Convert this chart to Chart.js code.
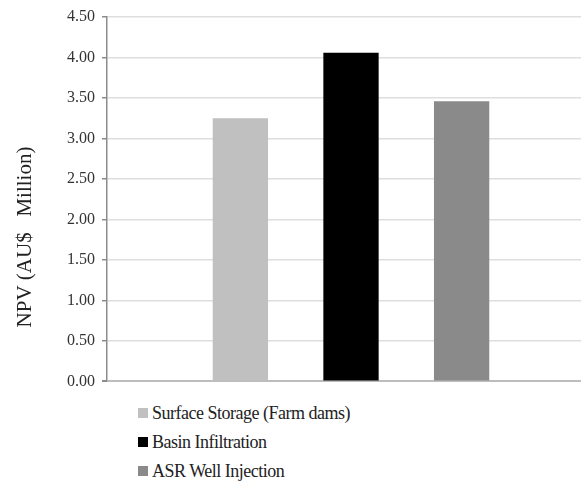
<!DOCTYPE html>
<html lang="en">
<head>
  <meta charset="UTF-8">
  <title>NPV by recharge option</title>
  <script src="https://cdn.jsdelivr.net/npm/chart.js"></script>
  <style>
    body {
      margin: 0;
      padding: 0;
      background: #fff;
      overflow: hidden;
      font-family: "Liberation Serif", "Times New Roman", "DejaVu Serif", serif;
    }
    #wrap {
      position: relative;
      width: 581px;
      height: 488px;
      overflow: hidden;
    }
    #npvChart {
      position: absolute;
      left: 0;
      top: 0;
    }
    #legend {
      position: absolute;
      left: 138px;
      top: 400px;
      list-style: none;
      margin: 0;
      padding: 0;
    }
    #legend li {
      height: 29px;
      line-height: 26px;
      font-size: 18px;
      color: #222;
      letter-spacing: -0.5px;
    }
    #legend span.box {
      display: inline-block;
      width: 10px;
      height: 10px;
      margin-right: 4px;
      vertical-align: 1px;
    }
  </style>
</head>
<body>
  <div id="wrap">
    <canvas id="npvChart" width="600" height="398"></canvas>
    <ul id="legend"></ul>
  </div>

  <script>
    const opciones = ['Surface Storage (Farm dams)', 'Basin Infiltration', 'ASR Well Injection'];
    const npv = [3.25, 4.06, 3.46];
    const colores = ['#c0c0c0', '#000000', '#8a8a8a'];
    const ejeTitulo = 'NPV (AU$   Million)';
    const fuente = '"Liberation Serif", "Times New Roman", "DejaVu Serif", serif';

    // dibuja el titulo del eje Y un poco mas abajo que el centro
    const tituloEje = {
      id: 'tituloEje',
      afterDraw(chart) {
        const ctx = chart.ctx;
        ctx.save();
        ctx.translate(25, 237);
        ctx.rotate(-Math.PI / 2);
        ctx.font = '21px ' + fuente;
        ctx.fillStyle = '#222';
        ctx.textAlign = 'center';
        ctx.textBaseline = 'middle';
        ctx.fillText(ejeTitulo, 0, 0);
        ctx.restore();
      }
    };

    new Chart(document.getElementById('npvChart'), {
      type: 'bar',
      data: {
        labels: [''],
        datasets: opciones.map((nombre, i) => ({
          label: nombre,
          data: [npv[i]],
          backgroundColor: colores[i],
          borderWidth: 0,
          barPercentage: 0.5,
          categoryPercentage: 0.68
        }))
      },
      options: {
        responsive: false,
        animation: false,
        layout: { padding: { top: 17, right: 5, bottom: 3, left: 0 } },
        plugins: {
          legend: { display: false },
          tooltip: { enabled: false }
        },
        scales: {
          x: { display: false },
          y: {
            min: 0,
            max: 4.5,
            afterFit(s) { s.width = 107; },
            ticks: {
              stepSize: 0.5,
              padding: 7,
              color: '#333',
              font: { family: fuente, size: 16 },
              callback: v => v.toFixed(2)
            },
            grid: {
              color: ctx => ctx.tick && ctx.tick.value === 0 ? '#bdbdbd' : '#dedede',
              lineWidth: ctx => ctx.tick && ctx.tick.value === 0 ? 2 : 1.5,
              tickLength: 5,
              tickColor: '#8c8c8c'
            },
            border: { color: '#8c8c8c', width: 1.5 }
          }
        }
      },
      plugins: [tituloEje]
    });

    const legend = document.getElementById('legend');
    opciones.forEach((nombre, i) => {
      const li = document.createElement('li');
      li.innerHTML = `<span class="box" style="background:${colores[i]}"></span>${nombre}`;
      legend.appendChild(li);
    });
  </script>
</body>
</html>
